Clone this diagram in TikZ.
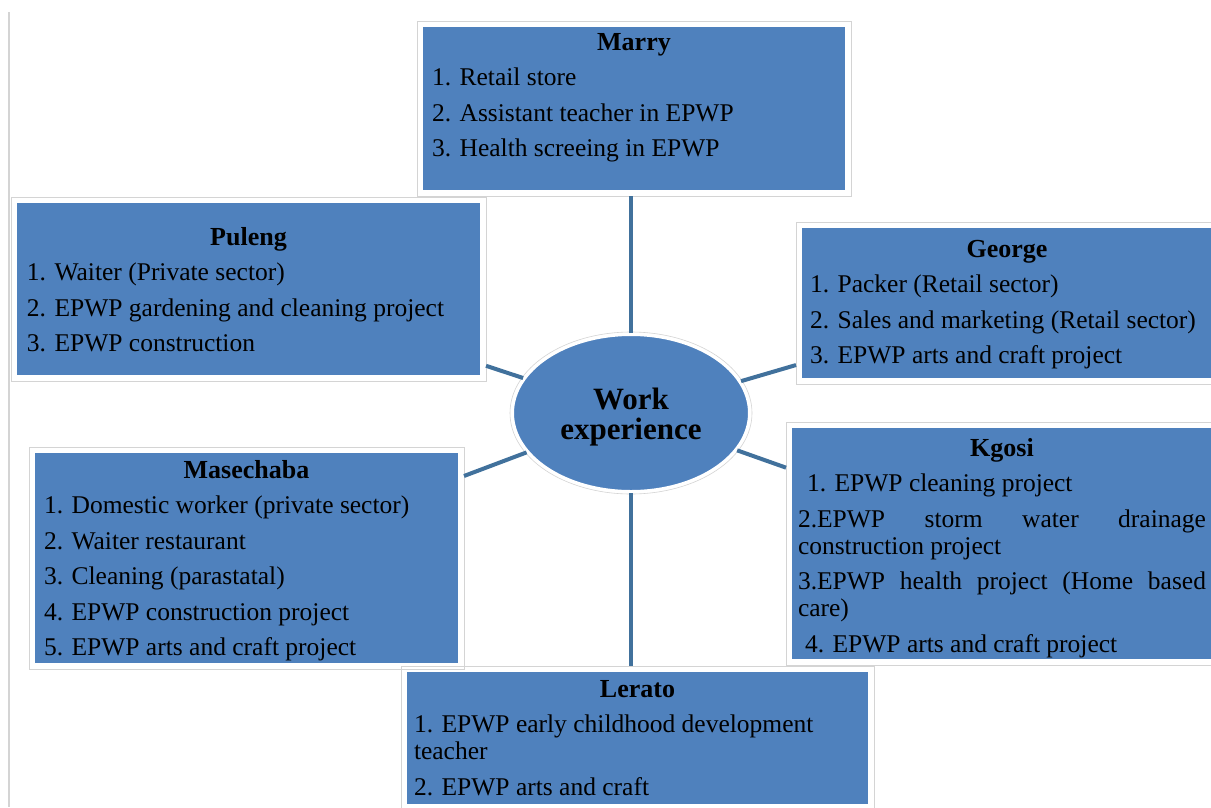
\documentclass[tikz,border=0pt]{standalone}
\usepackage{fontspec}
\setmainfont{Liberation Serif}
\usetikzlibrary{shapes.geometric}
\definecolor{boxblue}{HTML}{4F81BD}
\definecolor{linkblue}{HTML}{41719C}
\definecolor{framegray}{HTML}{D4D4D4}
\newcommand{\boxtext}[4]{\parbox[t][#1][t]{#2}{\fontsize{25.5}{27}\selectfont\setlength{\parskip}{8.5pt}\raggedright\vspace*{#3}#4}}
\newcommand{\btitle}[1]{{\centering\bfseries\fontsize{26}{27}\selectfont #1\par}}
\tikzset{
  wbox/.style={fill=boxblue, inner ysep=0pt, outer sep=6pt, anchor=north west},
  framebox/.style={draw=framegray, line width=1pt},
  conn/.style={draw=linkblue, line width=4pt},
}
\begin{document}
\begin{tikzpicture}[x=1pt,y=-1pt]
\useasboundingbox (0,0) rectangle (1211,807);
\fill[white] (0,0) rectangle (1211,807);
\draw[framegray, line width=1.5pt] (9,12) -- (9,807);

% Marry
\node[wbox, inner xsep=9pt] (marry) at (417,21) {\boxtext{163pt}{404pt}{-2.4pt}{%
\btitle{Marry}
1. Retail store\par
2. Assistant teacher in EPWP\par
3. Health screeing in EPWP}};

% Puleng
\node[wbox, inner xsep=10pt] (puleng) at (11,197) {\boxtext{172pt}{443pt}{15.6pt}{%
\btitle{Puleng}
1. Waiter (Private sector)\par
2. EPWP gardening and cleaning project\par
3. EPWP construction}};

% George
\node[wbox, inner xsep=8pt] (george) at (796,222) {\boxtext{150pt}{402pt}{3.6pt}{%
\btitle{\hspace*{-8pt}George}
1. Packer (Retail sector)\par
2. Sales and marketing (Retail sector)\par
3. EPWP arts and craft project}};

% Masechaba
\node[wbox, inner xsep=9pt] (masechaba) at (29,447) {\boxtext{210pt}{405pt}{-1.4pt}{%
\btitle{Masechaba}
1. Domestic worker (private sector)\par
2. Waiter restaurant\par
3. Cleaning (parastatal)\par
4. EPWP construction project\par
5. EPWP arts and craft project}};

% Kgosi
\node[wbox, inner xsep=6pt] (kgosi) at (786,422) {\boxtext{231pt}{408pt}{1.6pt}{%
\btitle{Kgosi}
\hspace*{9pt}1. EPWP cleaning project\par
2.EPWP\hfill storm\hfill water\hfill drainage\newline construction project\par
3.EPWP\hfill health\hfill project\hfill (Home\hfill based\newline care)\par
\hspace*{7pt}4. EPWP arts and craft project}};

% Lerato
\node[wbox, inner xsep=7pt] (lerato) at (401,666) {\boxtext{132pt}{447pt}{-0.4pt}{%
\btitle{Lerato}
1. EPWP early childhood development\newline teacher\par
2. EPWP arts and craft}};

% frames
\foreach \n in {marry,puleng,george,masechaba,kgosi,lerato}
  \draw[framebox] (\n.north west) rectangle (\n.south east);

% centre
\node[ellipse, fill=boxblue, draw=white, line width=3pt, minimum width=237pt, minimum height=157pt, inner sep=0pt, font=\fontsize{31}{30}\selectfont\bfseries] (we) at (631,413) {\raisebox{-5pt}[\height][\depth]{\begin{tabular}{@{}c@{}}Work\\experience\end{tabular}}};
\draw[framegray, line width=0.6pt] (we.center) ellipse [x radius=121, y radius=81];

% connectors
\draw[conn] (we.north) -- (we.north |- marry.south);
\draw[conn] (we.south) -- (we.south |- lerato.north);
\draw[conn] (puleng) -- (we);
\draw[conn] (george) -- (we);
\draw[conn] (masechaba) -- (we);
\draw[conn] (kgosi) -- (we);
\end{tikzpicture}
\end{document}
